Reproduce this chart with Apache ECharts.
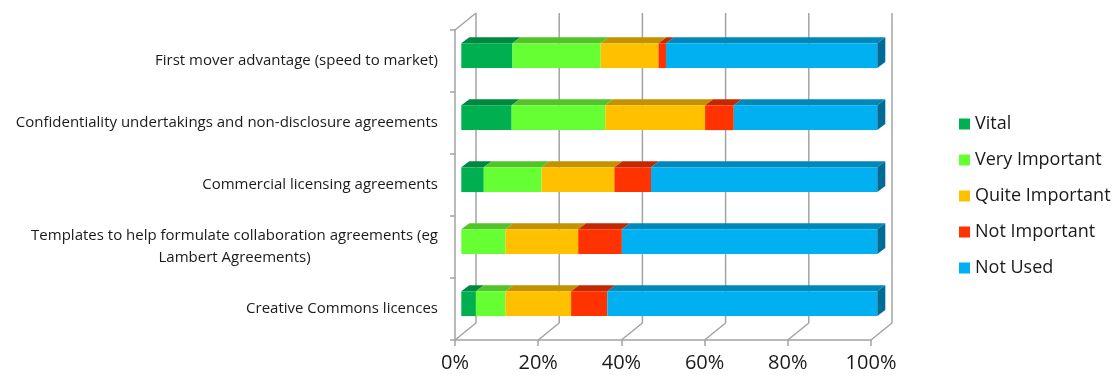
<!DOCTYPE html>
<html>
<head>
<meta charset="utf-8">
<title>Importance of collaboration mechanisms</title>
<script src="https://cdn.jsdelivr.net/npm/echarts@6/dist/echarts.min.js"></script>
<style>
  html, body { margin: 0; padding: 0; background: #ffffff; }
  #chart { width: 1112px; height: 381px; }
</style>
</head>
<body>
<div id="chart"></div>
<script>
// Categories, top to bottom
const categories = [
  'First mover advantage (speed to market)',
  'Confidentiality undertakings and non-disclosure agreements',
  'Commercial licensing agreements',
  'Templates to help formulate collaboration agreements (eg\nLambert Agreements)',
  'Creative Commons licences'
];

// Share of responses (%) per rating
const vital          = [12.3, 12.1,  5.4,  0.0,  3.5];
const veryImportant  = [21.2, 22.5, 13.9, 10.6,  7.1];
const quiteImportant = [13.9, 24.0, 17.5, 17.5, 15.8];
const notImportant   = [ 1.8,  6.9,  8.8, 10.5,  8.7];
const notUsed        = [50.8, 34.5, 54.4, 61.4, 64.9];

const seriesNames = ['Vital', 'Very Important', 'Quite Important', 'Not Important', 'Not Used'];
const seriesValues = [vital, veryImportant, quiteImportant, notImportant, notUsed];

// Percentage axis ticks
const xTicks = [0, 20, 40, 60, 80, 100];

// Face colours: front, top, side
const faceColors = [
  { front: '#00B050', top: '#00893E', side: '#006E32' },
  { front: '#66FF33', top: '#52C42A', side: '#40A020' },
  { front: '#FFC000', top: '#C29200', side: '#9C7500' },
  { front: '#FF3300', top: '#C42800', side: '#A02000' },
  { front: '#00B0F0', top: '#0088BA', side: '#006C96' }
];

// Pseudo-3D geometry (pixels)
const BACK_DX = 21, BACK_DY = -17;   // back wall offset from the front plane
const BAR_DX = 6.3, BAR_DY = -5.3;   // bar front face offset from the front plane
const DEPTH_DX = 8, DEPTH_DY = -6;   // bar depth
const BAR_RATIO = 0.4;               // bar thickness relative to category band
const GRID_COLOR = '#A3A3A3';

// Stack each category's segments: [categoryIndex, start, end]
function stackedData(k) {
  return categories.map((c, i) => {
    let start = 0;
    for (let j = 0; j < k; j++) start += seriesValues[j][i];
    return [i, start, start + seriesValues[k][i]];
  });
}

function renderSegment(k) {
  const isLast = k === seriesValues.length - 1;
  const col = faceColors[k];
  return function (params, api) {
    const cat = api.value(0);
    const p0 = api.coord([api.value(1), cat]);
    const p1 = api.coord([api.value(2), cat]);
    const band = api.size([0, 1])[1];
    const h = band * BAR_RATIO;
    const w = p1[0] - p0[0];
    if (w <= 0.01) return null;
    const x = p0[0] + BAR_DX;
    const y = p0[1] + BAR_DY - h / 2;
    const children = [
      {
        type: 'polygon',
        shape: { points: [[x, y], [x + w, y], [x + w + DEPTH_DX, y + DEPTH_DY], [x + DEPTH_DX, y + DEPTH_DY]] },
        style: { fill: col.top }
      },
      {
        type: 'rect',
        shape: { x: x, y: y, width: w, height: h },
        style: { fill: col.front }
      }
    ];
    if (isLast) {
      children.push({
        type: 'polygon',
        shape: { points: [[x + w, y], [x + w + DEPTH_DX, y + DEPTH_DY], [x + w + DEPTH_DX, y + h + DEPTH_DY], [x + w, y + h]] },
        style: { fill: col.side }
      });
    }
    return { type: 'group', children: children };
  };
}

// Back wall gridlines and floor diagonals
function renderWalls(params, api) {
  const cs = params.coordSys;
  const top = cs.y, bottom = cs.y + cs.height;
  const x = api.coord([api.value(0), 0])[0];
  const style = { stroke: GRID_COLOR, lineWidth: 1.5, fill: null };
  const children = [
    { type: 'line', shape: { x1: x + BACK_DX, y1: top + BACK_DY, x2: x + BACK_DX, y2: bottom + BACK_DY }, style: style },
    { type: 'line', shape: { x1: x, y1: bottom, x2: x + BACK_DX, y2: bottom + BACK_DY }, style: style }
  ];
  if (api.value(0) === xTicks[0]) {
    children.push({ type: 'line', shape: { x1: x, y1: top, x2: x + BACK_DX, y2: top + BACK_DY }, style: style });
  }
  return { type: 'group', children: children };
}

const FONT = '"Open Sans", "Liberation Sans", sans-serif';

const series = [
  {
    name: 'walls',
    type: 'custom',
    renderItem: renderWalls,
    data: xTicks.map(v => [v]),
    encode: { x: 0 },
    z: 1,
    silent: true,
    clip: false
  }
].concat(seriesNames.map((name, k) => ({
  name: name,
  type: 'custom',
  renderItem: renderSegment(k),
  data: stackedData(k),
  encode: { y: 0, x: [1, 2] },
  itemStyle: { color: faceColors[k].front },
  z: 2,
  clip: false
})));

const chart = echarts.init(document.getElementById('chart'), null, { renderer: 'canvas' });
chart.setOption({
  animation: false,
  backgroundColor: '#ffffff',
  textStyle: { fontFamily: FONT },
  grid: { left: 455, top: 30, width: 416, height: 310, containLabel: false, outerBoundsMode: 'none' },
  legend: {
    data: seriesNames,
    orient: 'vertical',
    left: 954,
    top: 108,
    icon: 'rect',
    itemWidth: 11,
    itemHeight: 11,
    itemGap: 14,
    textStyle: { fontFamily: FONT, fontSize: 18, color: '#1a1a1a', lineHeight: 22 }
  },
  xAxis: {
    type: 'value',
    min: 0,
    max: 100,
    interval: 20,
    axisLine: { show: true, lineStyle: { color: GRID_COLOR, width: 1.5 } },
    axisTick: { show: true, length: 6, lineStyle: { color: GRID_COLOR, width: 1.5 } },
    splitLine: { show: false },
    axisLabel: { formatter: '{value}%', fontFamily: FONT, fontSize: 20, color: '#1a1a1a', margin: 13 }
  },
  yAxis: {
    type: 'category',
    data: categories,
    inverse: true,
    axisLine: { show: true, lineStyle: { color: GRID_COLOR, width: 1.5 } },
    axisTick: { show: true, length: 5, lineStyle: { color: GRID_COLOR, width: 1.5 } },
    splitLine: { show: false },
    axisLabel: {
      margin: 17,
      fontFamily: FONT,
      fontSize: 15,
      color: '#1a1a1a',
      formatter: v => v.split('\n').map(s => '{c|' + s + '}').join('\n'),
      rich: { c: { align: 'center', fontFamily: FONT, fontSize: 15, color: '#1a1a1a', lineHeight: 22 } }
    }
  },
  series: series
});
</script>
</body>
</html>
